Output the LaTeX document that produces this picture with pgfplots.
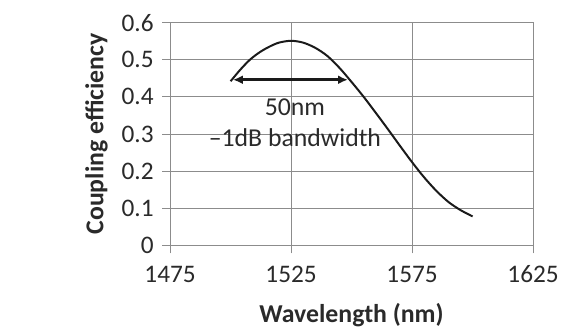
\documentclass[border=0pt]{standalone}
\usepackage{pgfplots}
\pgfplotsset{compat=1.18}
\usetikzlibrary{arrows.meta}
\usepackage{fontspec}
\setmainfont{Carlito}
\definecolor{txt}{HTML}{2A2A2A}
\definecolor{gridc}{HTML}{8C8C8C}
\definecolor{curve}{HTML}{1A1A1A}
\begin{document}
\begin{tikzpicture}
\begin{axis}[
  scale only axis, width=365bp, height=224bp,
  xmin=1475, xmax=1625, ymin=0, ymax=0.6,
  xtick={1475,1525,1575,1625}, ytick={0,0.1,0.2,0.3,0.4,0.5,0.6},
  grid=major, major grid style={gridc, line width=0.9bp},
  axis line style={gridc, line width=0.9bp},
  tick style={gridc, line width=0.9bp},
  major tick length=8bp,
  tick align=outside, xtick pos=bottom, ytick pos=left,
  /pgf/number format/assume math mode=true,
  ticklabel style={font=\fontsize{25.5}{25.5}\selectfont, text=txt},
  yticklabel style={/pgf/number format/fixed, /pgf/number format/precision=1, xshift=-5bp},
  xticklabel style={/pgf/number format/1000 sep={}, yshift=-9bp},
  xlabel={Wavelength (nm)}, ylabel={Coupling efficiency},
  label style={font=\bfseries\fontsize{26}{26}\selectfont, text=txt},
  xlabel style={at={(axis description cs:0.5,-0.3125)}, anchor=center},
  ylabel style={at={(axis description cs:-0.2027,0.5)}, anchor=center, rotate=0},
]
\addplot[curve, line width=2bp, smooth, tension=0.5] coordinates {
(1500,0.442) (1504,0.473) (1508,0.500) (1512,0.520) (1516,0.535)
(1520,0.546) (1525,0.551) (1530,0.546) (1535,0.532) (1540,0.510)
(1545,0.478) (1550,0.440) (1555,0.400) (1560,0.357) (1565,0.313)
(1570,0.268) (1575,0.224) (1580,0.183) (1585,0.147) (1590,0.117)
(1595,0.095) (1600,0.078)
};
\addplot[curve, line width=3bp, {Latex[length=10bp,width=9bp]}-{Latex[length=10bp,width=9bp]}] coordinates {(1501,0.446) (1548.5,0.446)};
\node[text=txt, font=\fontsize{26}{26}\selectfont] at (axis cs:1526.6,0.371) {50nm};
\node[text=txt, font=\fontsize{26}{26}\selectfont] at (axis cs:1526.6,0.291) {--1dB bandwidth};
\end{axis}
\path[use as bounding box] (-171bp,-81.3bp) rectangle (391bp,246.7bp);
\end{tikzpicture}
\end{document}
